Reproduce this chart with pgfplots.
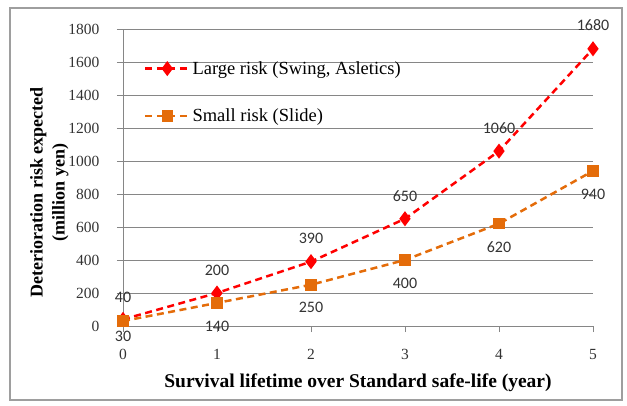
\documentclass[border=0pt]{standalone}
\usepackage{fontspec}
\setmainfont{Liberation Serif}
\newfontfamily\lblfont{Carlito}
\usepackage{pgfplots}
\usepackage{pgfplotstable}
\pgfplotsset{compat=1.18}
\definecolor{bigred}{RGB}{255,0,0}
\definecolor{smallorange}{RGB}{228,108,10}
\definecolor{gridgray}{RGB}{134,134,134}

% year  risk  label offset (pt)
\pgfplotstableread{
x  y     dy
0  40    22
1  200   23
2  390   23
3  650   23
4  1060  23
5  1680  24
}\largerisk
\pgfplotstableread{
x  y    dy
0  30   -15
1  140  -23
2  250  -23
3  400  -23
4  620  -23
5  940  -23
}\smallrisk

\begin{document}
\begin{tikzpicture}[x=1pt,y=1pt]
\useasboundingbox (-123,-79) rectangle (504,326);
\draw[gridgray!80, line width=1.5pt] (-113,-74) rectangle (499,318);
\begin{axis}[
  at={(0,0)}, anchor=south west,
  scale only axis, width=470pt, height=297pt,
  xmin=0, xmax=5, ymin=0, ymax=1800,
  xtick={0,...,5}, ytick={0,200,...,1800},
  axis x line*=bottom, axis y line*=left,
  axis line style={gridgray, line width=0.8pt},
  ymajorgrids, grid style={gridgray, line width=0.8pt},
  tick style={gridgray, line width=0.8pt},
  tick align=outside, major tick length=6pt,
  /pgf/number format/assume math mode=true,
  /pgf/number format/1000 sep={},
  tick label style={font=\fontsize{15.5}{15.5}\selectfont, text=black!80},
  yticklabel style={xshift=-14pt},
  xticklabel style={yshift=-14pt},
  xlabel={Survival lifetime over Standard safe-life (year)},
  xlabel style={at={(axis description cs:0.5,-0.192)}, anchor=center,
    font=\bfseries\fontsize{19.5}{19.5}\selectfont},
  ylabel={Deterioration risk expected\\(million yen)},
  ylabel style={at={(axis description cs:-0.157,0.45)}, anchor=center,
    align=center, font=\bfseries\fontsize{18}{22}\selectfont},
  legend style={at={(0.038,0.905)}, anchor=north west, draw=none, fill=none,
    font=\fontsize{18.5}{18.5}\selectfont, row sep=29pt,
    nodes={inner sep=2pt}},
  legend cell align=left,
  legend image code/.code={
    \draw[mark repeat=2, mark phase=2, #1]
      plot coordinates {(0pt,0pt) (22pt,0pt) (44pt,0pt)};},
  nodes near coords,
  nodes near coords style={font=\lblfont\fontsize{16}{16}\selectfont,
    text=black!80, anchor=center},
]
\addplot[bigred, line width=2.5pt, dash pattern=on 7pt off 4.5pt,
  mark=diamond*, mark size=5.5pt, mark options={solid},
  visualization depends on={\thisrow{dy} \as \labeldy},
  every node near coord/.append style={yshift=\labeldy}]
  table[x=x, y=y] {\largerisk};
\addlegendentry{Large risk (Swing, Asletics)}
\addplot[smallorange, line width=2.5pt, dash pattern=on 7pt off 4.5pt,
  mark=square*, mark size=4.5pt, mark options={solid},
  visualization depends on={\thisrow{dy} \as \labeldy},
  every node near coord/.append style={yshift=\labeldy}]
  table[x=x, y=y] {\smallrisk};
\addlegendentry{Small risk (Slide)}
\end{axis}
\end{tikzpicture}
\end{document}
